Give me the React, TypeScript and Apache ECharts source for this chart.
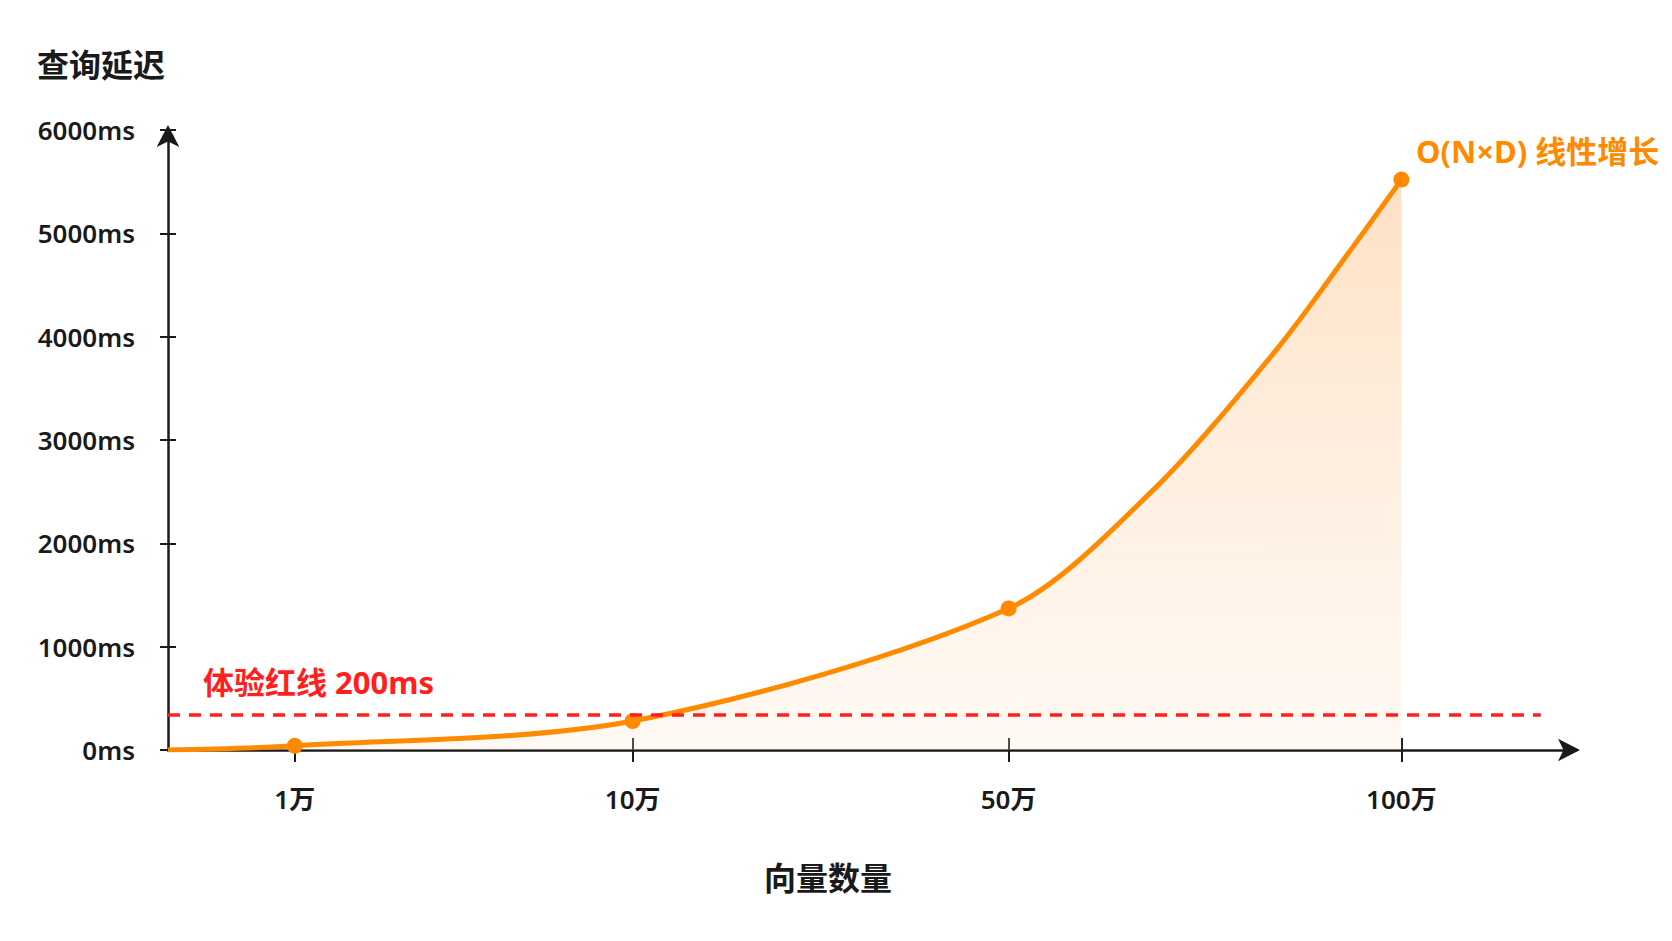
import React, { useEffect, useRef } from "react";
import * as echarts from "echarts";

// ---- data ----
const CATEGORIES = ["1万", "10万", "50万", "100万"];
// horizontal positions of the categories on the (irregular) vector-count axis
const X_POS = [0.9, 3.3, 5.97, 8.76];
const LATENCY_MS = [40, 280, 1370, 5520];
const TRACE_X = [7.0, 7.87, 8.4];
const TRACE_MS = [2520, 3870, 4840];
const Y_MIN = 0;
const Y_MAX = 6000;
const Y_INTERVAL = 1000;
const X_MAX = 10;
const RED_LINE_VALUE = 340;
const RED_LINE_END = 9.75;
const RED_LINE_LABEL = "体验红线 200ms";
const CURVE_LABEL = "O(N×D) 线性增长";
const Y_TITLE = "查询延迟";
const X_TITLE = "向量数量";

const FONT = "'Noto Sans', 'Noto Sans CJK SC', sans-serif";
const AXIS_COLOR = "#1a1a1a";
const ORANGE = "#FF8A00";
const RED = "#FF1F1F";

export default function App() {
  const ref = useRef<HTMLDivElement>(null);

  useEffect(() => {
    if (!ref.current) return;
    const chart = echarts.init(ref.current, null, { renderer: "svg" });

    const seriesData: any[] = [
      { value: [0, 0], symbol: "none" },
      ...X_POS.map((x, i) => ({ value: [x, LATENCY_MS[i]] })),
      ...TRACE_X.map((x, i) => ({ value: [x, TRACE_MS[i]], symbol: "none" })),
    ].sort((a, b) => a.value[0] - b.value[0]);

    const option: any = {
      animation: false,
      backgroundColor: "#ffffff",
      grid: { left: 168, right: 96, top: 130, bottom: 191, containLabel: false },
      xAxis: [
        {
          type: "value",
          min: 0,
          max: X_MAX,
          position: "bottom",
          splitLine: { show: false },
          axisLine: {
            show: true,
            onZero: false,
            symbol: ["none", "arrow"],
            symbolSize: [17, 22],
            symbolOffset: [0, 4],
            lineStyle: { color: AXIS_COLOR, width: 2.5 },
          },
          axisTick: {
            show: true,
            length: 12,
            customValues: X_POS,
            lineStyle: { color: AXIS_COLOR, width: 2 },
          },
          axisLabel: {
            show: true,
            customValues: X_POS,
            margin: 36,
            color: AXIS_COLOR,
            fontSize: 26,
            fontWeight: 600,
            fontFamily: FONT,
            formatter: (v: number) => {
              const i = X_POS.findIndex((p) => Math.abs(p - v) < 1e-6);
              return i >= 0 ? CATEGORIES[i] : "";
            },
          },
        },
        {
          type: "value",
          min: 0,
          max: X_MAX,
          position: "bottom",
          offset: 0,
          splitLine: { show: false },
          axisLine: { show: false, onZero: false },
          axisLabel: { show: false, customValues: X_POS },
          axisTick: {
            show: true,
            inside: true,
            length: 12,
            customValues: X_POS,
            lineStyle: { color: AXIS_COLOR, width: 2 },
          },
        },
      ],
      yAxis: [
        {
          type: "value",
          min: Y_MIN,
          max: Y_MAX,
          interval: Y_INTERVAL,
          position: "left",
          splitLine: { show: false },
          axisLine: {
            show: true,
            onZero: false,
            symbol: ["none", "arrow"],
            symbolSize: [17, 22],
            symbolOffset: [0, 5],
            lineStyle: { color: AXIS_COLOR, width: 2.5 },
          },
          axisTick: { show: true, length: 8, lineStyle: { color: AXIS_COLOR, width: 2 } },
          axisLabel: {
            margin: 33,
            color: AXIS_COLOR,
            fontSize: 26,
            fontWeight: 600,
            fontFamily: FONT,
            formatter: (v: number) => `${v}ms`,
          },
        },
        {
          type: "value",
          min: Y_MIN,
          max: Y_MAX,
          interval: Y_INTERVAL,
          position: "left",
          offset: 0,
          splitLine: { show: false },
          axisLine: { show: false, onZero: false },
          axisLabel: { show: false },
          axisTick: {
            show: true,
            inside: true,
            length: 8,
            lineStyle: { color: AXIS_COLOR, width: 2 },
          },
        },
      ],
      series: [
        {
          type: "line",
          xAxisIndex: 0,
          yAxisIndex: 0,
          data: seriesData,
          smooth: 0.3,
          symbol: "circle",
          symbolSize: 16,
          showSymbol: true,
          lineStyle: { color: ORANGE, width: 5 },
          itemStyle: { color: ORANGE },
          areaStyle: {
            color: new echarts.graphic.LinearGradient(0, 0, 0, 1, [
              { offset: 0, color: "rgba(252, 196, 140, 0.75)" },
              { offset: 1, color: "rgba(255, 230, 205, 0.35)" },
            ]),
          },
          z: 3,
          markLine: {
            silent: true,
            symbol: ["none", "none"],
            label: { show: false },
            lineStyle: { color: RED, width: 3.5, type: [12, 9] },
            data: [
              [
                { coord: [0, RED_LINE_VALUE] },
                { coord: [RED_LINE_END, RED_LINE_VALUE] },
              ],
            ],
            z: 4,
          },
        },
      ],
      graphic: [
        {
          type: "text",
          left: 37,
          top: 48,
          style: {
            text: Y_TITLE,
            fill: AXIS_COLOR,
            font: `bold 32px ${FONT}`,
          },
        },
        {
          type: "text",
          x: 828,
          y: 877,
          style: {
            text: X_TITLE,
            fill: AXIS_COLOR,
            font: `bold 32px ${FONT}`,
            align: "center",
            verticalAlign: "middle",
          },
        },
        {
          type: "text",
          x: 203,
          y: 682,
          style: {
            text: RED_LINE_LABEL,
            fill: RED,
            font: `bold 31px ${FONT}`,
            align: "left",
            verticalAlign: "middle",
          },
        },
        {
          type: "text",
          x: 1416,
          y: 151,
          style: {
            text: CURVE_LABEL,
            fill: ORANGE,
            font: `bold 31px ${FONT}`,
            align: "left",
            verticalAlign: "middle",
          },
        },
      ],
    };

    chart.setOption(option);
    return () => chart.dispose();
  }, []);

  return (
    <div
      ref={ref}
      style={{ position: "fixed", left: 0, top: 0, width: 1672, height: 941 }}
    />
  );
}
